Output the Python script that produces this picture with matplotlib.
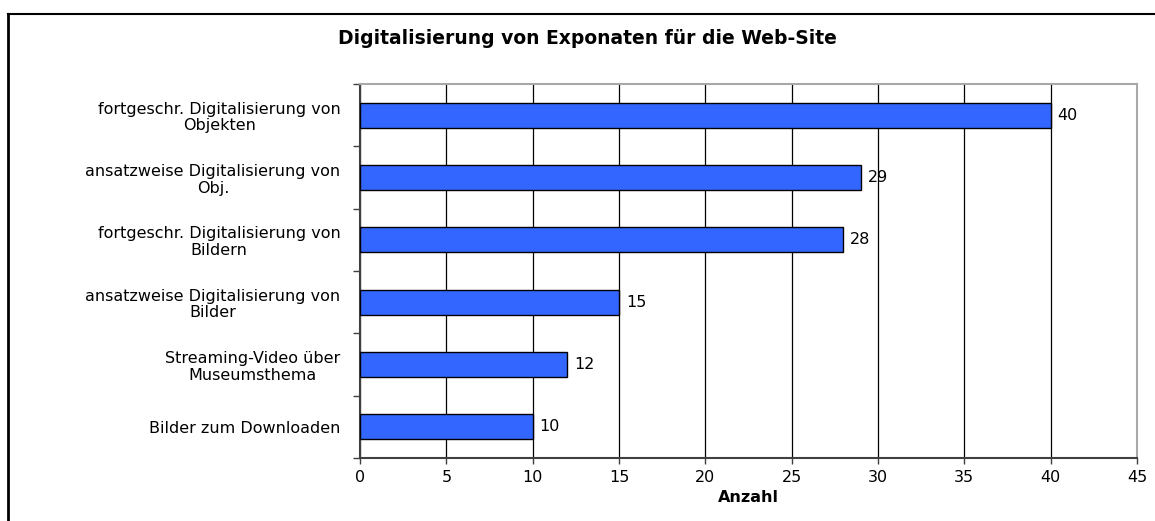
import matplotlib

matplotlib.use("Agg")
import matplotlib.pyplot as plt
from matplotlib.lines import Line2D

categories = [
    "Bilder zum Downloaden",
    "Streaming-Video über\nMuseumsthema",
    "ansatzweise Digitalisierung von\nBilder",
    "fortgeschr. Digitalisierung von\nBildern",
    "ansatzweise Digitalisierung von\nObj.",
    "fortgeschr. Digitalisierung von\nObjekten",
]
counts = [10, 12, 15, 28, 29, 40]
x_ticks = [0, 5, 10, 15, 20, 25, 30, 35, 40, 45]

W, H = 1155, 521
plt.rcParams["font.family"] = ["DejaVu Sans"]

fig = plt.figure(figsize=(W / 100, H / 100), dpi=100)
ax = fig.add_axes([360 / W, (H - 458) / H, (1137 - 360) / W, (458 - 84) / H])

pos = list(range(len(categories)))
ax.barh(pos, counts, height=0.4, color="#3366ff", edgecolor="black", linewidth=1, zorder=3)
for y, v in zip(pos, counts):
    ax.text(v + 0.4, y, str(v), va="center", ha="left", fontsize=11.5, zorder=4)

ax.set_xlim(0, 45)
ax.set_ylim(-0.5, len(categories) - 0.5)
ax.set_xticks(x_ticks)
ax.xaxis.grid(True, color="black", linewidth=0.9, zorder=0)
ax.tick_params(axis="x", length=4, width=1, pad=5, labelsize=11.5, color="#404040")

# category boundaries get the tick marks, centres get the labels
ax.set_yticks([p - 0.5 for p in pos] + [len(categories) - 0.5])
ax.set_yticklabels([])
ax.tick_params(axis="y", which="major", length=5, width=1, color="#404040")
ax.set_yticks(pos, minor=True)
ax.set_yticklabels(categories, minor=True)
ax.tick_params(axis="y", which="minor", length=0, pad=14, labelsize=11.5)
for lbl in ax.get_yticklabels(minor=True):
    lbl.set_multialignment("center")
    lbl.set_linespacing(1.15)

for side in ["top", "right"]:
    ax.spines[side].set_color("#a8a8a8")
    ax.spines[side].set_linewidth(1.5)
for side in ["left", "bottom"]:
    ax.spines[side].set_color("#404040")
    ax.spines[side].set_linewidth(1.5)

ax.set_xlabel("Anzahl", fontsize=11.5, fontweight="bold", labelpad=3)
fig.text(587 / W, 1 - 38 / H, "Digitalisierung von Exponaten für die Web-Site",
         ha="center", va="center", fontsize=13.5, fontweight="bold")

# outer frame, right and bottom edges fall outside the picture
fig.add_artist(Line2D([7.5 / W, 7.5 / W], [0, 1 - 14 / H], transform=fig.transFigure, color="black", linewidth=2))
fig.add_artist(Line2D([7.5 / W, 1], [1 - 14 / H, 1 - 14 / H], transform=fig.transFigure, color="black", linewidth=1.5))

fig.savefig("out.png", dpi=100)
